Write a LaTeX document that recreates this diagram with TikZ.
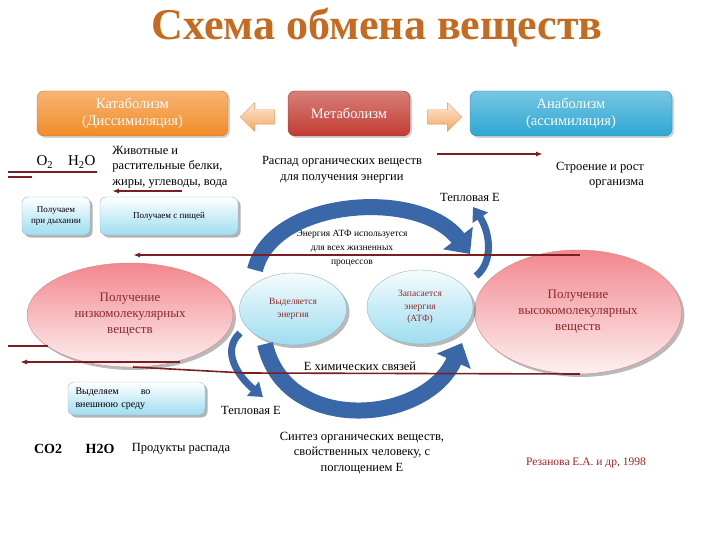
\documentclass[tikz,border=0pt]{standalone}
\usepackage{fontspec}
\setmainfont{Liberation Serif}
\usetikzlibrary{arrows.meta, shapes.geometric, shapes.arrows, shadows, positioning}
\definecolor{titlebrown}{HTML}{C56A1E}
\definecolor{kataorange}{HTML}{F28C28}
\definecolor{metared}{HTML}{C23B32}
\definecolor{anablue}{HTML}{2EA7D3}
\definecolor{peach}{HTML}{F5A760}
\definecolor{lightcyan}{HTML}{9EDDF0}
\definecolor{pinkfill}{HTML}{F2878D}
\definecolor{linered}{HTML}{7A1E22}
\definecolor{arcblue}{HTML}{3A67A8}
\definecolor{labelred}{HTML}{8C2B2B}

\begin{document}
\begin{tikzpicture}[x=1pt, y=-1pt,
    topbox/.style={rounded corners=7pt, minimum height=45pt, inner sep=2pt, align=center,
        text=white, font=\fontsize{14.5}{17}\selectfont, draw=#1!85!black,
        top color=#1!65!white, bottom color=#1,
        drop shadow={shadow xshift=2pt, shadow yshift=-2pt, opacity=.35}},
    sidearrow/.style={single arrow, draw=peach!90!black, top color=peach!25!white, bottom color=peach,
        minimum height=34pt, inner sep=7pt, single arrow head extend=7pt},
    infobox/.style={rounded corners=6pt, draw=lightcyan!60!gray, top color=white, bottom color=lightcyan,
        inner sep=2pt, font=\fontsize{9}{10.5}\selectfont, align=center,
        drop shadow={shadow xshift=2.5pt, shadow yshift=-2.5pt, fill=gray, opacity=.6}},
    bigoval/.style={ellipse, inner sep=0pt, draw=pinkfill!70!gray, top color=pinkfill, bottom color=pinkfill!12!white,
        text=labelred, align=center, font=\fontsize{13}{16}\selectfont,
        drop shadow={shadow xshift=3pt, shadow yshift=-3pt, fill=gray, opacity=.55}},
    smalloval/.style={ellipse, inner sep=0pt, draw=lightcyan!60!gray, top color=lightcyan!10!white, bottom color=lightcyan,
        text=labelred, align=center, font=\fontsize{9.5}{12.5}\selectfont,
        drop shadow={shadow xshift=3pt, shadow yshift=-3pt, fill=gray, opacity=.55}},
    plain/.style={align=center, inner sep=0pt, font=\fontsize{12.5}{15.5}\selectfont},
    redline/.style={draw=linered, line width=1.6pt},
    redarrow/.style={redline, -{Latex[length=7pt, width=5pt]}},
    bigarc/.style={draw=arcblue, line width=16pt, -{Triangle[length=20pt, width=36pt]}},
    smallarc/.style={draw=arcblue, line width=7pt, -{Triangle[length=13pt, width=18pt]}}
  ]
\useasboundingbox (0,0) rectangle (720,540);

\node[font=\fontsize{44}{44}\selectfont\bfseries, text=titlebrown] (title) at (377,28) {Схема обмена веществ};

\node[topbox=kataorange, minimum width=191pt] (katabolism) at (132.5,113.5) {Катаболизм\\(Диссимиляция)};
\node[topbox=metared, minimum width=122pt] (metabolism) at (349,113.5) {Метаболизм};
\node[topbox=anablue, minimum width=202pt] (anabolism) at (571,113.5) {Анаболизм\\(ассимиляция)};
\node[sidearrow, shape border rotate=180] (toKata) at (261,117) {};
\node[sidearrow] (toAna) at (441,117) {};

\node[plain, font=\fontsize{15}{17}\selectfont] (gases) at (66,162) {O\textsubscript{2}\quad H\textsubscript{2}O};
\node[plain, align=left] (foodtext) at (170,167) {Животные и\\растительные белки,\\жиры, углеводы, вода};
\node[infobox, minimum width=68pt, minimum height=38pt] (breath) at (56,216) {Получаем\\при дыхании};
\node[infobox, minimum width=138pt, minimum height=38pt] (food) at (169,216) {Получаем с пищей};
\node[plain] (decay) at (342,170) {Распад органических веществ\\для получения энергии};
\node[plain, align=right] (growth) at (600,175) {Строение и рост\\организма};
\node[plain] (heatTop) at (470,197) {Тепловая Е};
\node[plain, font=\fontsize{9.5}{14}\selectfont] (atpuse) at (352,248) {Энергия АТФ используется\\для всех жизненных\\процессов};

\node[bigoval, minimum width=206pt, minimum height=104pt] (lowmol) at (130,315) {Получение\\низкомолекулярных\\веществ};
\node[bigoval, minimum width=207pt, minimum height=124pt] (highmol) at (578,312) {Получение\\высокомолекулярных\\веществ};
\node[smalloval, minimum width=107pt, minimum height=72pt] (release) at (293,309) {Выделяется\\энергия};
\node[smalloval, minimum width=106pt, minimum height=74pt] (store) at (420,307) {Запасается\\энергия\\(АТФ)};

\node[plain] (chembond) at (360,366) {Е химических связей};
\node[plain] (heatLow) at (251,410) {Тепловая Е};
\node[infobox, minimum width=137pt, minimum height=33pt, text width=122pt, align=left,
    font=\fontsize{10}{13}\selectfont] (outside) at (136.5,398.5) {Выделяем\hspace{2.2em}во\\внешнюю среду};
\node[plain, font=\fontsize{12.5}{15.5}\selectfont] (synth) at (362,453) {Синтез органических веществ,\\свойственных человеку, с\\поглощением Е};
\node[plain, font=\fontsize{14}{16}\selectfont\bfseries] (co2) at (48,449) {CO2};
\node[plain, font=\fontsize{14}{16}\selectfont\bfseries] (h2o) at (100,449) {H2O};
\node[plain] (products) at (181,449) {Продукты распада};
\node[plain, font=\fontsize{11.5}{14}\selectfont, text=labelred!80!red] (source) at (586,463) {Резанова Е.А. и др, 1998};

% blue cycle
\coordinate (upStart) at (255,270);
\coordinate (upEnd) at (470,254);
\coordinate (heatUpStart) at (476,276);
\coordinate (heatUpEnd) at (473,207);
\coordinate (lowStart) at (265,344);
\coordinate (lowEnd) at (462,343);
\coordinate (heatLowStart) at (240,333);
\coordinate (heatLowEnd) at (263,397);
\draw[bigarc] (upStart) .. controls (272,198) and (420,188) .. (upEnd);
\draw[smallarc] (heatUpStart) .. controls (494,262) and (490,232) .. (heatUpEnd);
\draw[bigarc] (lowStart) .. controls (285,435) and (425,425) .. (lowEnd);
\draw[smallarc] (heatLowStart) .. controls (220,352) and (240,378) .. (heatLowEnd);

% red lines
\coordinate (gasA) at (8,172);
\coordinate (gasB) at (97,172);
\coordinate (gasC) at (8,177);
\coordinate (gasD) at (32,177);
\coordinate (foodA) at (182,191);
\coordinate (foodB) at (112,191);
\coordinate (growA) at (437,154);
\coordinate (growB) at (543,154);
\coordinate (atpA) at (580,255);
\coordinate (atpB) at (133,255);
\coordinate (outA) at (8,346);
\coordinate (outB) at (48,346);
\coordinate (bothA) at (20,362);
\coordinate (bothB) at (180,362);
\coordinate (chemA) at (133,367);
\coordinate (chemB) at (245,373);
\coordinate (chemC) at (580,374);
\draw[redline] (gasA) -- (gasB);
\draw[redline] (gasC) -- (gasD);
\draw[redarrow] (foodA) -- (foodB);
\draw[redarrow] (growA) -- (growB);
\draw[redarrow] (atpA) -- (atpB);
\draw[redline] (outA) -- (outB);
\draw[redarrow, {Latex[length=7pt, width=5pt]}-] (bothA) -- (bothB);
\draw[redline] (chemA) -- (chemB) -- (chemC);
\end{tikzpicture}
\end{document}
